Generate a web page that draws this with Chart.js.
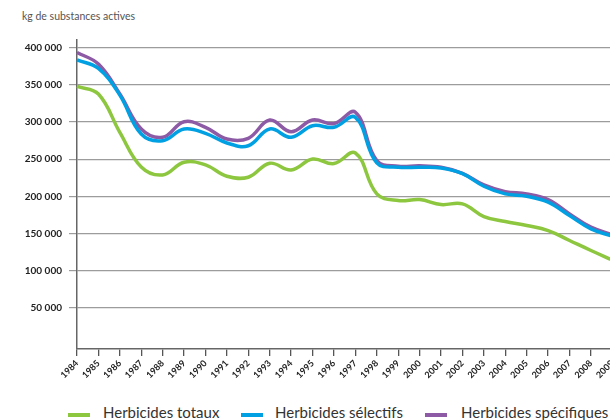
<!DOCTYPE html>
<html lang="fr">
<head>
<meta charset="utf-8">
<script src="https://cdn.jsdelivr.net/npm/chart.js@4/dist/chart.umd.min.js"></script>
<style>
  html, body { margin: 0; padding: 0; background: #fff; overflow: hidden; width: 610px; height: 420px; }
  #wrap { position: relative; width: 610px; height: 420px; overflow: hidden; }
  #chartBox { position: absolute; left: 0; top: 0; width: 622px; height: 392px; }
  #unit { position: absolute; left: 22px; top: 10px; font: 10.5px Lato, sans-serif; color: #555; }
  .leg { position: absolute; top: 403px; font: 15px Lato, sans-serif; color: #333; white-space: nowrap; }
  .leg i { position: absolute; top: 10px; height: 4px; width: 22px; }
</style>
</head>
<body>
<div id="wrap">
  <div id="unit">kg de substances actives</div>
  <div id="chartBox"><canvas id="herbChart"></canvas></div>
  <div id="legend"></div>
</div>
<script>
const years = ['1984', '1985', '1986', '1987', '1988', '1989', '1990', '1991', '1992', '1993', '1994', '1995', '1996',
  '1997', '1998', '1999', '2000', '2001', '2002', '2003', '2004', '2005', '2006', '2007', '2008', '2009'];

const herbicidesTotaux = [347700, 337400, 286000, 239500, 228800, 245800, 242200, 227000, 225700, 244500, 235500, 250200, 244000,
  258300, 203300, 194300, 195700, 189000, 189900, 172900, 166200, 160800, 154100, 140700, 127300, 114500];
const herbicidesSelectifs = [383400, 371800, 336000, 283700, 274800, 290500, 284700, 271700, 268000, 290500, 279300, 294900, 292700,
  306200, 244900, 239100, 239100, 238200, 230600, 213600, 203300, 200200, 192200, 174200, 156400, 146500];
const herbicidesSpecifiques = [393300, 377600, 337400, 290500, 279300, 300300, 292700, 277000, 278000, 302500, 286800, 302500, 297700,
  312900, 248000, 240400, 241000, 239100, 231000, 215400, 206400, 203300, 195700, 176500, 158600, 148500];

const yTicks = [50000, 100000, 150000, 200000, 250000, 300000, 350000, 400000];

const seriesNames = ['Herbicides totaux', 'Herbicides sélectifs', 'Herbicides spécifiques'];
const seriesColors = ['#8dc63f', '#00a0e3', '#8d5aa5'];

// legend drawn as plain html so it can sit where the original has it
const legendX = [[68, 103], [241, 275], [425, 461]];
document.getElementById('legend').innerHTML = seriesNames.map((name, i) =>
  `<div class="leg" style="left:${legendX[i][1]}px"><i style="left:${legendX[i][0] - legendX[i][1]}px;background:${seriesColors[i]}"></i>${name}</div>`
).join('');

const tickFont = { family: 'Lato, sans-serif', weight: 'bold', size: 10 };

function fmt(v) {
  return String(v).replace(/\B(?=(\d{3})+(?!\d))/g, ' ');
}

new Chart(document.getElementById('herbChart'), {
  type: 'line',
  data: {
    labels: years,
    datasets: [herbicidesTotaux, herbicidesSelectifs, herbicidesSpecifiques].map((values, i) => ({
      label: seriesNames[i],
      data: values,
      borderColor: seriesColors[i],
      backgroundColor: seriesColors[i],
      borderWidth: 3.5,
      tension: 0.4,
      pointRadius: 0,
      fill: false,
    })),
  },
  options: {
    responsive: true,
    maintainAspectRatio: false,
    animation: false,
    layout: { padding: { top: 40, right: 0, left: 0, bottom: 0 } },
    plugins: {
      legend: { display: false },
      tooltip: { enabled: false },
    },
    scales: {
      x: {
        offset: false,
        grid: { drawOnChartArea: false, drawTicks: true, tickLength: 7, color: '#555', lineWidth: 1.3 },
        border: { color: '#666', width: 1.5 },
        ticks: {
          font: { ...tickFont, size: 9 },
          color: '#222',
          minRotation: 45,
          maxRotation: 45,
          autoSkip: false,
          padding: 2,
        },
        afterFit: (scale) => { scale.height = 43; },
      },
      y: {
        min: -5000,
        max: 410000,
        afterBuildTicks: (scale) => { scale.ticks = yTicks.map((v) => ({ value: v })); },
        grid: { color: '#9c9c9c', lineWidth: 1.2, tickLength: 8 },
        border: { color: '#666', width: 1.5 },
        ticks: {
          font: tickFont,
          color: '#222',
          padding: 7,
          callback: (v) => fmt(v),
        },
        afterFit: (scale) => { scale.width = 77; },
      },
    },
  },
});
</script>
</body>
</html>
